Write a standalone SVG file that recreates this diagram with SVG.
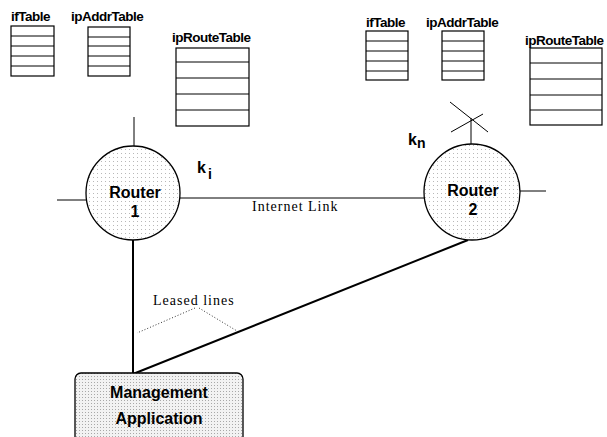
<svg xmlns="http://www.w3.org/2000/svg" width="607" height="437" viewBox="0 0 607 437">
<style>
.lbl{font-family:"Liberation Sans",Arial,sans-serif;font-weight:bold;fill:#000}
.tl{font-size:13.5px;letter-spacing:-0.5px}
.ser{font-family:"Liberation Serif","Times New Roman",serif;font-size:14px;letter-spacing:1px;fill:#000}
.tbl{fill:#fff;stroke:#000;stroke-width:1.2}
.row{stroke:#000;stroke-width:1}
.ln{stroke:#000;stroke-width:1;fill:none}
.thick{stroke:#000;stroke-width:2;fill:none}
.dot{stroke:#000;stroke-width:0.8;stroke-dasharray:1 2;fill:none}
.node{font-size:16px;text-anchor:middle}
</style>
<defs>
<pattern id="stip" width="4" height="4" patternUnits="userSpaceOnUse">
<rect width="4" height="4" fill="#fff"/>
<rect x="1" y="1" width="1" height="1" fill="#b8b8b8"/>
</pattern>
<pattern id="stip2" width="3" height="3" patternUnits="userSpaceOnUse">
<rect width="3" height="3" fill="#f2f2f2"/>
<rect x="1" y="1" width="1" height="1" fill="#a8a8a8"/>
</pattern>
</defs>

<g id="tables-router1">
<text class="lbl tl" x="11" y="21">ifTable</text>
<rect class="tbl" x="11" y="26" width="43" height="50"/>
<path class="row" d="M11 36H54M11 46H54M11 56H54M11 66H54"/>
<text class="lbl tl" x="71" y="21">ipAddrTable</text>
<rect class="tbl" x="88" y="27" width="42" height="49"/>
<path class="row" d="M88 37H130M88 46H130M88 56H130M88 66H130"/>
<text class="lbl tl" x="172" y="42">ipRouteTable</text>
<rect class="tbl" x="176" y="48" width="73" height="78"/>
<path class="row" d="M176 62H249M176 78H249M176 94H249M176 110H249"/>
</g>

<g id="tables-router2">
<text class="lbl tl" x="366" y="27">ifTable</text>
<rect class="tbl" x="366" y="31" width="42" height="49"/>
<path class="row" d="M366 41H408M366 51H408M366 61H408M366 71H408"/>
<text class="lbl tl" x="426" y="27">ipAddrTable</text>
<rect class="tbl" x="442" y="31" width="42" height="49"/>
<path class="row" d="M442 41H484M442 51H484M442 61H484M442 71H484"/>
<text class="lbl tl" x="525" y="45">ipRouteTable</text>
<rect class="tbl" x="530" y="48" width="72" height="77"/>
<path class="row" d="M530 63H602M530 79H602M530 95H602M530 110H602"/>
</g>

<g id="connectors">
<path class="ln" d="M134 117V146"/>
<path class="ln" d="M57 200H86"/>
<path class="ln" d="M180 198H424"/>
<path class="ln" d="M520 191H546"/>
<path class="ln" d="M471 118V145"/>
<path class="ln" d="M450 102L488 132" stroke-width="2"/>
<path class="ln" d="M483 114L451 132" stroke-width="2"/>
<path class="thick" d="M133 240V374"/>
<path class="thick" d="M133 374L468 240"/>
<path class="dot" d="M195 308L137 333"/>
<path class="dot" d="M199 308L237 331"/>
<text class="ser" x="252" y="211">Internet Link</text>
<text class="ser" x="153" y="305">Leased lines</text>
</g>

<g id="router1">
<circle cx="133" cy="193" r="47" fill="url(#stip)" stroke="#000" stroke-width="1.3"/>
<text class="lbl node" x="135" y="198">Router</text>
<text class="lbl node" x="135" y="217">1</text>
</g>
<text class="lbl" x="197" y="173" font-size="16">k</text>
<text class="lbl" x="208" y="179" font-size="14">i</text>

<g id="router2">
<circle cx="472" cy="192" r="48" fill="url(#stip)" stroke="#000" stroke-width="1.3"/>
<text class="lbl node" x="473" y="196">Router</text>
<text class="lbl node" x="473" y="215">2</text>
</g>
<text class="lbl" x="408" y="145" font-size="16">k</text>
<text class="lbl" x="417" y="148" font-size="14">n</text>

<g id="management">
<rect x="75" y="373" width="168" height="80" rx="6" fill="url(#stip2)" stroke="#000" stroke-width="1.3"/>
<text class="lbl node" x="159" y="398" font-size="16">Management</text>
<text class="lbl node" x="159" y="424" font-size="16">Application</text>
</g>
</svg>
